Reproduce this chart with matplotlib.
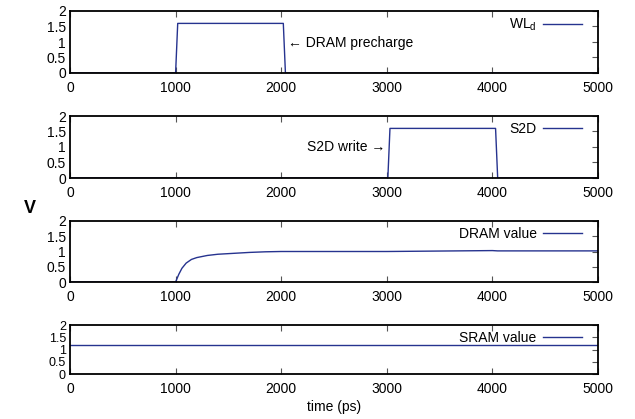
#!/usr/bin/env python3
"""Four stacked transient waveforms (WL_d, S2D, DRAM value, SRAM value)."""
import matplotlib
matplotlib.use("Agg")
import matplotlib.pyplot as plt

plt.rcParams["font.family"] = ["Liberation Sans", "DejaVu Sans"]
plt.rcParams["mathtext.fontset"] = "custom"
plt.rcParams["mathtext.rm"] = "Liberation Sans"
plt.rcParams["font.size"] = 10

# waveforms (time in ps, value in V)
wl_t = [0, 1000, 1020, 2020, 2040, 5000]
wl_v = [0, 0, 1.6, 1.6, 0, 0]

s2d_t = [0, 3010, 3030, 4030, 4050, 5000]
s2d_v = [0, 0, 1.6, 1.6, 0, 0]

dram_t = [0, 1000, 1030, 1060, 1100, 1150, 1200, 1300, 1400, 1550, 1700, 1850,
          2000, 3000, 4000, 4050, 5000]
dram_v = [0, 0, 0.25, 0.45, 0.62, 0.74, 0.80, 0.87, 0.91, 0.94, 0.97, 0.99,
          1.0, 1.0, 1.03, 1.02, 1.02]

sram_t = [0, 5000]
sram_v = [1.2, 1.2]

labels = ["WL$_\\mathrm{d}$", "S2D", "DRAM value", "SRAM value"]
xticks = [0, 1000, 2000, 3000, 4000, 5000]
yticks = [0, 0.5, 1, 1.5, 2]
yticklabels = ["0", "0.5", "1", "1.5", "2"]

LINE = "#26338f"
W, H = 635, 419
# panel boxes in pixels: (top, bottom)
panels = [(11, 73), (116, 178), (221, 282), (325, 374)]
left, right = 70, 598

fig = plt.figure(figsize=(W / 100, H / 100), dpi=100)
series = [(wl_t, wl_v), (s2d_t, s2d_v), (dram_t, dram_v), (sram_t, sram_v)]

for i, ((top, bot), (t, v), lab) in enumerate(zip(panels, series, labels)):
    ax = fig.add_axes([left / W, 1 - bot / H, (right - left) / W, (bot - top) / H])
    ax.plot(t, v, color=LINE, lw=1.0, label=lab)
    ax.set_xlim(0, 5000)
    ax.set_ylim(0, 2)
    ax.set_xticks(xticks)
    ax.set_yticks(yticks)
    ax.set_yticklabels(yticklabels)
    ax.tick_params(axis="x", bottom=True, top=True, direction="in", length=4,
                   width=0.8, pad=6, color="#555555")
    ax.tick_params(axis="y", left=False, right=True, direction="in", length=4,
                   width=0.8, pad=3, color="#555555")
    if i == 3:
        # last panel is shorter, labels sit tight like in the original
        ax.tick_params(axis="y", labelsize=9)
    for sp in ax.spines.values():
        sp.set_linewidth(1.3)
    ax.legend(loc="upper right", bbox_to_anchor=(0.98, 1.0), frameon=False,
              markerfirst=False, handlelength=2.8, handletextpad=0.45,
              borderaxespad=0.0, fontsize=10)
    if lab == "S2D":
        ax.annotate("S2D write \u2192", xy=(2990, 1.0), ha="right", va="center")
    if lab.startswith("WL"):
        ax.annotate("\u2190 DRAM precharge", xy=(2060, 0.97), ha="left", va="center")

fig.text(30 / W, 1 - 208 / H, "V", fontsize=13, fontweight="bold",
         ha="center", va="center")
fig.text(334 / W, 1 - 407 / H, "time (ps)", ha="center", va="center")

fig.savefig("out.png", dpi=100)
